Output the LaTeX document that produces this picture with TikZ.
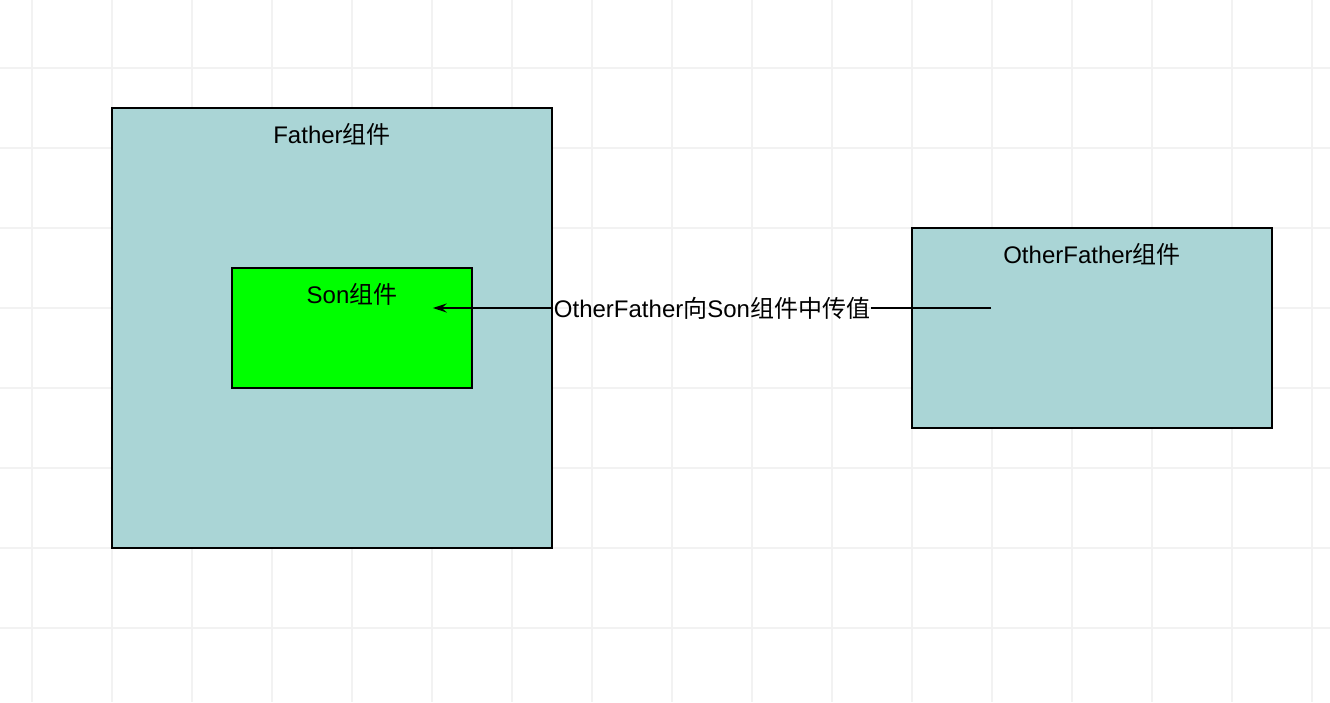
\documentclass[tikz,border=0pt]{standalone}
\usepackage{fontspec}
\setmainfont{Liberation Sans}
\newfontfamily\cjk{Noto Sans CJK SC}
\usepackage{xcolor}
\usepackage{tikz}
\usetikzlibrary{arrows.meta, positioning, calc}
\definecolor{compteal}{RGB}{170,213,214}
\definecolor{compgreen}{RGB}{0,255,0}
\definecolor{gridgray}{RGB}{242,242,242}
\newcommand{\zh}[1]{{\cjk #1}}

\begin{document}
\begin{tikzpicture}[
    x=1pt, y=-1pt,
    comp/.style={rectangle, draw=black, line width=1.6pt, fill=compteal},
    title/.style={anchor=base, font=\fontsize{24}{27}\selectfont, inner sep=0pt},
    arrow/.style={-{Stealth[length=14pt, width=9pt, inset=5pt]}, line width=1.5pt}
]

% background grid
\fill[white] (0,0) rectangle (1330,702);
\useasboundingbox (0,0) rectangle (1330,702);
\foreach \x in {32,112,...,1312} \draw[gridgray, line width=1.5pt] (\x,0) -- (\x,702);
\foreach \y in {68,148,...,628} \draw[gridgray, line width=1.5pt] (0,\y) -- (1330,\y);

% Father with Son inside
\node[comp, minimum width=440pt, minimum height=440pt] (father) at (332,328) {};
\node[title] (fathertitle) at ([yshift=-36pt]father.north) {Father\zh{组件}};
\node[comp, fill=compgreen, minimum width=240pt, minimum height=120pt] (son) at (352,328) {};
\node[title] (sontitle) at ([yshift=-36pt]son.north) {Son\zh{组件}};

% OtherFather
\node[comp, minimum width=360pt, minimum height=200pt] (other) at (1092,328) {};
\node[title] (othertitle) at ([yshift=-36pt]other.north) {OtherFather\zh{组件}};

% passing the value
\coordinate (src) at ([xshift=80pt, yshift=20pt]other.west);
\coordinate (dst) at ([xshift=-40pt, yshift=20pt]son.east);
\node[title, inner sep=1pt] (msg) at ([yshift=-9pt]$(src)!0.5!(dst)$) {OtherFather\zh{向}Son\zh{组件中传值}};
\draw[line width=1.5pt] (src) -- (src -| msg.east);
\draw[arrow] (dst -| msg.west) -- (dst);

\end{tikzpicture}
\end{document}
